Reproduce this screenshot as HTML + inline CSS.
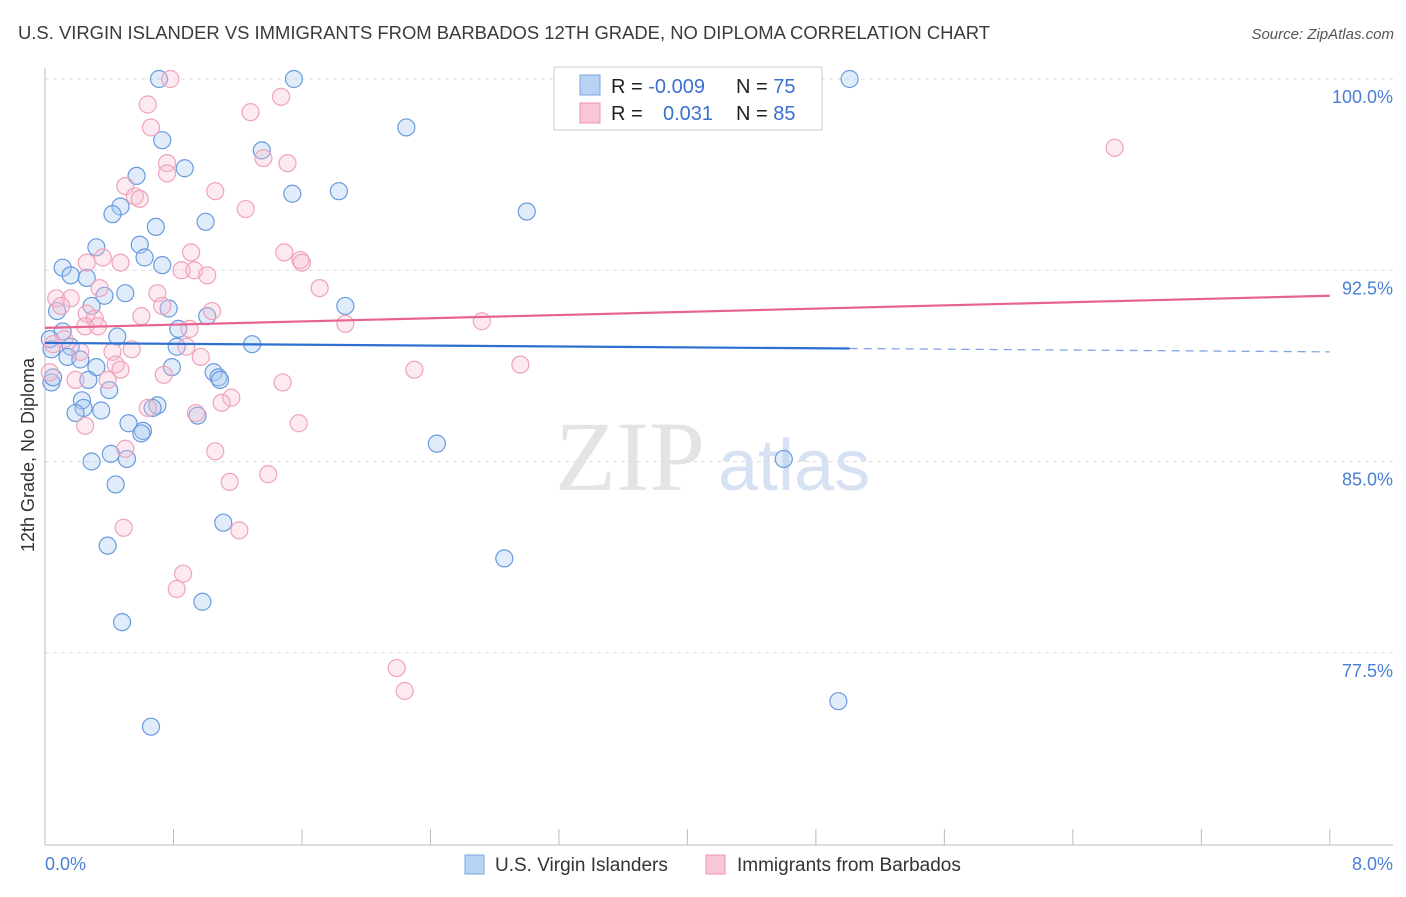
<!DOCTYPE html>
<html><head><meta charset="utf-8"><style>
body{margin:0;background:#fff;font-family:"Liberation Sans",sans-serif}
</style></head><body>
<svg width="1406" height="892" xmlns="http://www.w3.org/2000/svg">
<text x="18" y="39" font-size="18" fill="#3a3a3a" textLength="972" lengthAdjust="spacingAndGlyphs">U.S. VIRGIN ISLANDER VS IMMIGRANTS FROM BARBADOS 12TH GRADE, NO DIPLOMA CORRELATION CHART</text>
<text x="1394" y="39" font-size="15" font-style="italic" fill="#555" text-anchor="end">Source: ZipAtlas.com</text>
<g>
<text x="555" y="490" font-size="100" font-family="Liberation Serif,serif" fill="#e4e4e4">ZIP</text>
<text x="718" y="490" font-size="72" fill="#d6e2f3">atlas</text>
</g>
<g id="grid"></g>
<g id="axes"></g>
<g id="pts"></g>
<g id="trend"></g>
<text x="34" y="455" font-size="18" fill="#333" transform="rotate(-90 34 455)" text-anchor="middle">12th Grade, No Diploma</text>
<text x="45" y="870" font-size="18" fill="#4a7fd6">0.0%</text>
<text x="1393" y="870" font-size="18" fill="#4a7fd6" text-anchor="end">8.0%</text>
<g>
<rect x="554" y="67" width="268" height="63" fill="#fff" stroke="#ccc"/>
<rect x="580" y="75" width="20" height="20" fill="#b8d2f3" stroke="#7aa6e0"/>
<rect x="580" y="103" width="20" height="20" fill="#f9c6d5" stroke="#ec94b0"/>
<text x="611" y="93" font-size="20" fill="#222">R = <tspan fill="#3a70cf">-0.009</tspan></text>
<text x="736" y="93" font-size="20" fill="#222">N = <tspan fill="#3a70cf">75</tspan></text>
<text x="611" y="120" font-size="20" fill="#222">R = <tspan fill="#3a70cf" x="663">0.031</tspan></text>
<text x="736" y="120" font-size="20" fill="#222">N = <tspan fill="#3a70cf">85</tspan></text>
</g>
<g>
<rect x="465" y="855" width="19" height="19" fill="#b8d2f3" stroke="#7aa6e0"/>
<text x="495" y="871" font-size="19" fill="#333">U.S. Virgin Islanders</text>
<rect x="706" y="855" width="19" height="19" fill="#f9c6d5" stroke="#ec94b0"/>
<text x="737" y="871" font-size="19" fill="#333">Immigrants from Barbados</text>
</g>
</svg>
<script>
const yTicks=[100,92.5,85,77.5];
const yTickLabels=["100.0%","92.5%","85.0%","77.5%"];
const xTicks=[0,0.8,1.6,2.4,3.2,4,4.8,5.6,6.4,7.2,8];
const blueX=[0.71,1.55,5.01,2.25,0.73,0.87,1.35,0.57,1.54,1.83,3.0,0.47,0.42,1.0,0.69,0.32,0.59,0.62,0.73,0.11,0.16,0.26,0.50,0.37,0.29,0.77,1.87,1.01,0.075,0.83,0.11,0.45,1.29,0.82,0.16,0.04,0.14,0.22,0.32,0.79,1.05,1.08,1.09,0.27,0.40,0.04,0.23,0.70,0.67,0.24,0.19,0.35,0.95,0.52,0.61,0.60,2.44,0.41,0.51,0.29,4.6,0.44,1.11,0.39,2.86,0.98,0.48,4.94,0.66,0.03,0.05];
const blueY=[100,100,100,98.1,97.6,96.5,97.2,96.2,95.5,95.6,94.8,95.0,94.7,94.4,94.2,93.4,93.5,93.0,92.7,92.6,92.3,92.2,91.6,91.5,91.1,91.0,91.1,90.7,90.9,90.2,90.1,89.9,89.6,89.5,89.5,89.4,89.1,89.0,88.7,88.7,88.5,88.3,88.2,88.2,87.8,88.1,87.4,87.2,87.1,87.1,86.9,87.0,86.8,86.5,86.2,86.1,85.7,85.3,85.1,85.0,85.1,84.1,82.6,81.7,81.2,79.5,78.7,75.6,74.6,89.8,88.3];
const pinkX=[0.78,0.64,1.47,1.28,0.66,0.76,0.76,1.36,1.51,0.50,0.56,0.59,1.06,1.25,6.66,0.91,1.49,1.59,1.60,0.36,0.26,0.47,0.85,0.93,1.01,1.71,0.70,0.34,0.07,0.16,0.10,0.73,1.04,0.60,0.26,0.31,2.72,1.87,0.25,0.90,0.33,0.12,0.54,0.88,0.22,0.42,0.97,0.44,0.47,2.30,2.96,0.74,0.39,0.19,1.48,1.16,1.10,0.64,0.94,1.58,0.25,0.50,1.06,1.39,1.15,0.49,1.21,0.86,0.82,2.19,2.24,0.03,0.05];
const pinkY=[100,99.0,99.3,98.7,98.1,96.7,96.3,96.9,96.7,95.8,95.4,95.3,95.6,94.9,97.3,93.2,93.2,92.9,92.8,93.0,92.8,92.8,92.5,92.5,92.3,91.8,91.6,91.8,91.4,91.4,91.1,91.1,90.9,90.7,90.8,90.6,90.5,90.4,90.3,90.2,90.3,89.8,89.4,89.5,89.3,89.3,89.1,88.8,88.6,88.6,88.8,88.4,88.2,88.2,88.1,87.5,87.3,87.1,86.9,86.5,86.4,85.5,85.4,84.5,84.2,82.4,82.3,80.6,80.0,76.9,76.0,88.5,89.6];
const blueTrend=[89.65,89.3];
const pinkTrend=[90.24,91.5];
const NS="http://www.w3.org/2000/svg";
const xs=v=>45+v*160.6, ys=v=>79+(100-v)*25.5;
function mk(tag,attrs,parent){const e=document.createElementNS(NS,tag);for(const k in attrs)e.setAttribute(k,attrs[k]);document.getElementById(parent).appendChild(e);return e;}
yTicks.forEach((t,i)=>{
 const l=mk('line',{x1:45,x2:1393,y1:ys(t),y2:ys(t),stroke:'#ddd','stroke-dasharray':'4 4'},'grid');
 
 
 const tx=mk('text',{x:1393,y:ys(t)+24,'font-size':18,fill:'#4a7fd6','text-anchor':'end'},'grid');
 tx.textContent=yTickLabels[i];
 
 
});
const ax=mk('line',{x1:45,x2:1393,y1:845,y2:845,stroke:'#bbb'},'axes');


const ay=mk('line',{x1:45,x2:45,y1:68,y2:845,stroke:'#bbb'},'axes');


xTicks.forEach(t=>{
 const l=mk('line',{x1:xs(t),x2:xs(t),y1:829,y2:845,stroke:'#bbb'},'axes');
 
 
});
blueX.forEach((x,i)=>{
 const c=mk('circle',{cx:xs(x),cy:ys(blueY[i]),r:8.5,fill:'rgba(170,200,240,0.35)',stroke:'#6a9ade','stroke-width':1.2},'pts');
 
 
});
pinkX.forEach((x,i)=>{
 const c=mk('circle',{cx:xs(x),cy:ys(pinkY[i]),r:8.5,fill:'rgba(248,190,208,0.32)',stroke:'#eea3bc','stroke-width':1.2},'pts');
 
 
});
const bAt=v=>blueTrend[0]+(blueTrend[1]-blueTrend[0])*v/8;
const b1=mk('line',{x1:xs(0),y1:ys(bAt(0)),x2:xs(5.01),y2:ys(bAt(5.01)),stroke:'#2f6fd0','stroke-width':2.2},'trend');


const b2=mk('line',{x1:xs(5.01),y1:ys(bAt(5.01)),x2:xs(8),y2:ys(bAt(8)),stroke:'#7fa6e3','stroke-width':1.3,'stroke-dasharray':'8 6'},'trend');


const p1=mk('line',{x1:xs(0),y1:ys(pinkTrend[0]),x2:xs(8),y2:ys(pinkTrend[1]),stroke:'#e8638e','stroke-width':2.2},'trend');


</script>
</body></html>
